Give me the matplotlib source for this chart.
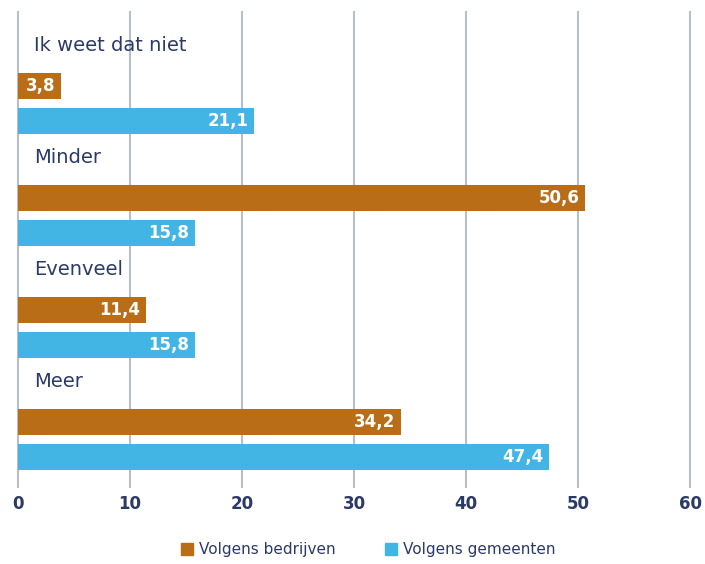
import matplotlib.pyplot as plt
from matplotlib.patches import Patch

categories = ["Ik weet dat niet", "Minder", "Evenveel", "Meer"]
bedrijven = [3.8, 50.6, 11.4, 34.2]
gemeenten = [21.1, 15.8, 15.8, 47.4]
xticks = [0, 10, 20, 30, 40, 50, 60]

orange = "#b96d16"
blue = "#42b5e5"
navy = "#2b3a67"
grid = "#b9bdc4"

plt.rcParams['font.family'] = ['DejaVu Sans']

fig = plt.figure(figsize=(7.05, 5.64), dpi=100)
ax = fig.add_axes([18 / 705, 77 / 564, 672 / 705, 475 / 564])

for k, cat in enumerate(categories):
    ax.text(1.4, k + 0.30, cat, fontsize=14, color=navy, va='center', ha='left')
    b1 = ax.barh(k + 0.66, bedrijven[k], height=0.23, color=orange, zorder=3)
    b2 = ax.barh(k + 0.97, gemeenten[k], height=0.23, color=blue, zorder=3)
    for bars, v in ((b1, bedrijven[k]), (b2, gemeenten[k])):
        ax.bar_label(bars, labels=[f"{v:.1f}".replace('.', ',')], label_type='edge',
                     padding=-4, color='white', fontsize=12, fontweight='bold', zorder=4)

# keep value labels inside the bar end
for t in ax.texts:
    if t.get_color() == 'white':
        t.set_ha('right')

ax.set_xlim(0, 60)
ax.set_ylim(4.24, 0)
ax.set_xticks(xticks)
ax.set_xticklabels([str(x) for x in xticks], fontsize=12, fontweight='bold', color=navy)
ax.set_yticks([])
ax.xaxis.grid(True, color=grid, linewidth=1.5, zorder=0)
for gl in ax.get_xgridlines():
    gl.set_clip_on(False)
ax.tick_params(axis='x', length=0, pad=6)
for s in ax.spines.values():
    s.set_visible(False)

handles = [Patch(color=orange, label="Volgens bedrijven"),
           Patch(color=blue, label="Volgens gemeenten")]
fig.legend(handles=handles, loc='lower center', bbox_to_anchor=(0.522, -0.012), ncol=2,
           frameon=False, fontsize=11, labelcolor=navy, handlelength=0.8, handleheight=0.8,
           handletextpad=0.4, columnspacing=3.2)

fig.savefig("out.png", dpi=100)
